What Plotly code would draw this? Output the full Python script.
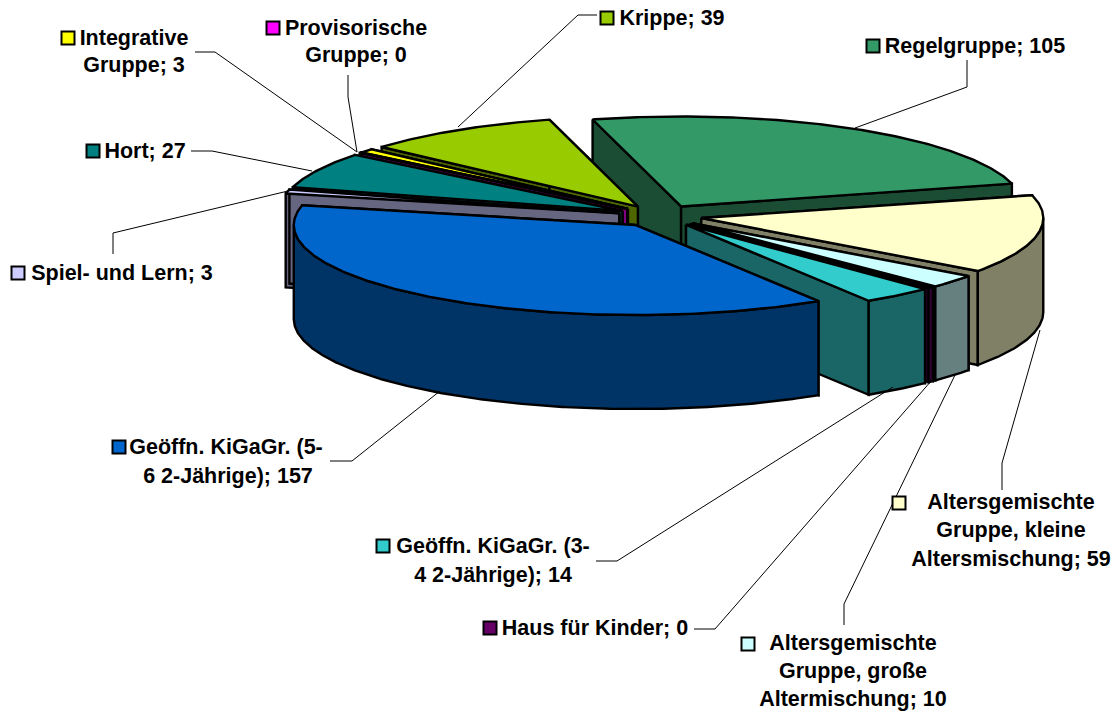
import numpy as np
import plotly.graph_objects as go

# --- data (clockwise from the first slice); the two "0" groups show as thin slivers
categories = ["Regelgruppe", "Altersgemischte Gruppe, kleine Altersmischung",
              "Altersgemischte Gruppe, große Altermischung", "Haus für Kinder",
              "Geöffn. KiGaGr. (3-4 2-Jährige)", "Geöffn. KiGaGr. (5-6 2-Jährige)",
              "Spiel- und Lern", "Hort", "Provisorische Gruppe", "Integrative Gruppe", "Krippe"]
values = [105, 59, 10, 1.2, 14, 157, 3, 27, 0.4, 3, 39]
top_colors = ["#339966", "#FFFFCC", "#CCFFFF", "#660066", "#33CCCC", "#0066CC",
              "#CCCCFF", "#008080", "#FF00FF", "#FFFF00", "#99CC00"]
side_colors = ["#1A4D33", "#808066", "#668080", "#330033", "#1A6666", "#003366",
               "#666680", "#004040", "#800080", "#808000", "#4D6600"]
draw_order = [0, 10, 9, 8, 7, 6, 1, 2, 3, 4, 5]

# text lines: (text, x, y)
label_lines = [
    ("Integrative", 134, 40), ("Gruppe; 3", 134, 67),
    ("Provisorische", 356, 30), ("Gruppe; 0", 356, 57),
    ("Krippe; 39", 672, 20),
    ("Regelgruppe; 105", 975, 48),
    ("Hort; 27", 145, 153),
    ("Spiel- und Lern; 3", 122, 275),
    ("Geöffn. KiGaGr. (5-", 226, 449), ("6 2-Jährige); 157", 228, 478),
    ("Altersgemischte", 1011, 504), ("Gruppe, kleine", 1011, 532), ("Altersmischung; 59", 1011, 561),
    ("Geöffn. KiGaGr. (3-", 493, 548), ("4 2-Jährige); 14", 493, 577),
    ("Haus für Kinder; 0", 595, 630),
    ("Altersgemischte", 853, 645), ("Gruppe, große", 853, 673), ("Altermischung; 10", 853, 701),
]
key_x = [873, 899, 748, 490, 383, 119, 18, 93, 273, 68, 607]
key_y = [46, 503, 644, 628, 546, 447, 273, 151, 28, 38, 18]
leaders = [
    ([967, 967, 855], [60, 87, 128]),
    ([1002, 1002, 1040], [490, 463, 330]),
    ([844, 844, 955], [625, 604, 375]),
    ([694, 715, 932], [629, 629, 380]),
    ([596, 617, 893], [561, 561, 387]),
    ([330, 352, 440], [461, 461, 391]),
    ([113, 113, 288], [254, 233, 191]),
    ([191, 212, 312], [151, 151, 171]),
    ([348, 348, 357], [75, 97, 152]),
    ([195, 215, 357], [52, 52, 152]),
    ([597, 578, 458], [15, 15, 127]),
]

# pie geometry
CX, CY = 660, 216
RX, RY = 342, 90
DEPTH = 94
EXPLODE = 42
START = 105.0
LW = 2.4

fig = go.Figure()


def poly(xs, ys, color):
    fig.add_trace(go.Scatter(x=np.r_[xs, xs[0]], y=np.r_[ys, ys[0]], mode="lines", fill="toself",
                             fillcolor=color, line=dict(color="black", width=LW, shape="linear"),
                             hoverinfo="skip", showlegend=False))


total = sum(values)
spans = [v / total * 360 for v in values]
ends = START - np.cumsum(spans)
starts = ends + np.array(spans)

for i in draw_order:
    a0, a1 = starts[i], ends[i]
    mid = np.radians((a0 + a1) / 2)
    ax = CX + EXPLODE * np.cos(mid)
    ay = CY - EXPLODE * RY / RX * np.sin(mid)
    th = np.radians(np.linspace(a0, a1, max(3, int(abs(a0 - a1) * 2))))
    rx = ax + RX * np.cos(th)
    ry = ay - RY * np.sin(th)
    # radial walls
    poly(np.array([ax, rx[0], rx[0], ax]), np.array([ay, ry[0], ry[0] + DEPTH, ay + DEPTH]), side_colors[i])
    poly(np.array([ax, rx[-1], rx[-1], ax]), np.array([ay, ry[-1], ry[-1] + DEPTH, ay + DEPTH]), side_colors[i])
    # outer wall: only the front-facing part of the rim
    front = np.sin(th) <= 0
    if front.sum() >= 2:
        fx, fy = rx[front], ry[front]
        poly(np.r_[fx, fx[::-1]], np.r_[fy, fy[::-1] + DEPTH], side_colors[i])
    # top face
    poly(np.r_[ax, rx], np.r_[ay, ry], top_colors[i])

for lx, ly in leaders:
    fig.add_trace(go.Scatter(x=lx, y=ly, mode="lines", line=dict(color="black", width=1),
                             hoverinfo="skip", showlegend=False))

fig.add_trace(go.Scatter(x=key_x, y=key_y, mode="markers",
                         marker=dict(symbol="square", size=13, color=top_colors,
                                     line=dict(color="black", width=2)),
                         hoverinfo="skip", showlegend=False))

fig.add_trace(go.Scatter(x=[l[1] for l in label_lines], y=[l[2] for l in label_lines],
                         text=[l[0] for l in label_lines], mode="text", textposition="middle center",
                         textfont=dict(family="Liberation Sans", size=21.5, color="black", weight="bold"),
                         hoverinfo="skip", showlegend=False))

fig.update_layout(width=1115, height=715, margin=dict(l=0, r=0, t=0, b=0),
                  paper_bgcolor="white", plot_bgcolor="white",
                  xaxis=dict(range=[0, 1115], visible=False, fixedrange=True),
                  yaxis=dict(range=[715, 0], visible=False, fixedrange=True))
fig.write_html("out.html", config={"displayModeBar": False},
               post_script="document.body.style.margin='0';document.body.style.overflow='hidden';")
